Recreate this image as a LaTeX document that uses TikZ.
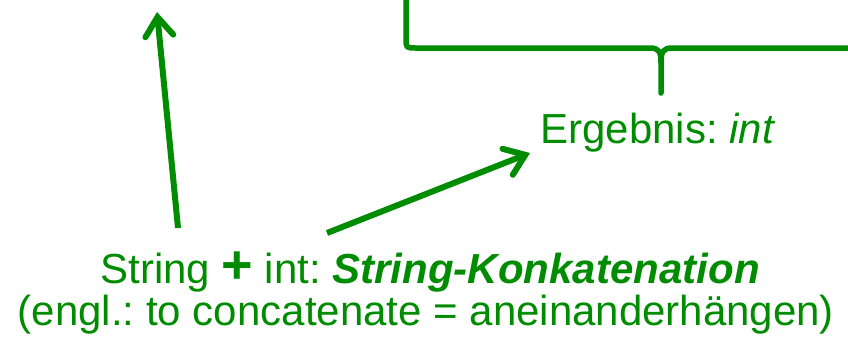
\documentclass[tikz,border=0pt]{standalone}
\usepackage{fontspec}
\setmainfont{Liberation Sans}
\usetikzlibrary{arrows.meta}
\definecolor{grn}{RGB}{0,140,0}
\frenchspacing
\begin{document}
\begin{tikzpicture}[x=1pt,y=-1pt,
  every node/.style={inner sep=0pt, text=grn},
  lbl/.style={font=\fontsize{42}{42}\selectfont},
  pointer/.style={draw=grn, line width=6pt,
    -{Straight Barb[length=19pt,width=28pt,line cap=round]}},
  bracket/.style={draw=grn, line width=5.5pt, line cap=round, line join=round}]
\useasboundingbox (0,0) rectangle (848,338);

% labels
\node[lbl, anchor=base] (ergebnis) at (658,143) {Ergebnis: \textit{int}};
\node[lbl, anchor=base] (concat) at (430,283)
  {String {\fontsize{54}{54}\selectfont\bfseries +} int: \textbf{\textit{String-Konkatenation}}};
\node[lbl, anchor=base] (engl) at (426,325) {(engl.: to concatenate = aneinanderhängen)};

% arrow end points
\coordinate (above) at (157,12);
\coordinate (s1) at (178,228);
\coordinate (s2) at (327,233);
\coordinate (res) at (530,153);
\draw[pointer] (s1) -- (above);
\draw[pointer] (s2) -- (res);

% curly brace over the expression
\coordinate (bl) at (406,0);
\coordinate (bt) at (661,93);
\coordinate (br) at (852,48);
\draw[bracket] (bl) -- (406,38) .. controls (406,48) .. (416,48) -- (650,48)
  .. controls (659,48) and (661,52) .. (661,62) -- (bt);
\draw[bracket] (661,62) .. controls (661,52) and (663,48) .. (672,48) -- (br);
\end{tikzpicture}
\end{document}
